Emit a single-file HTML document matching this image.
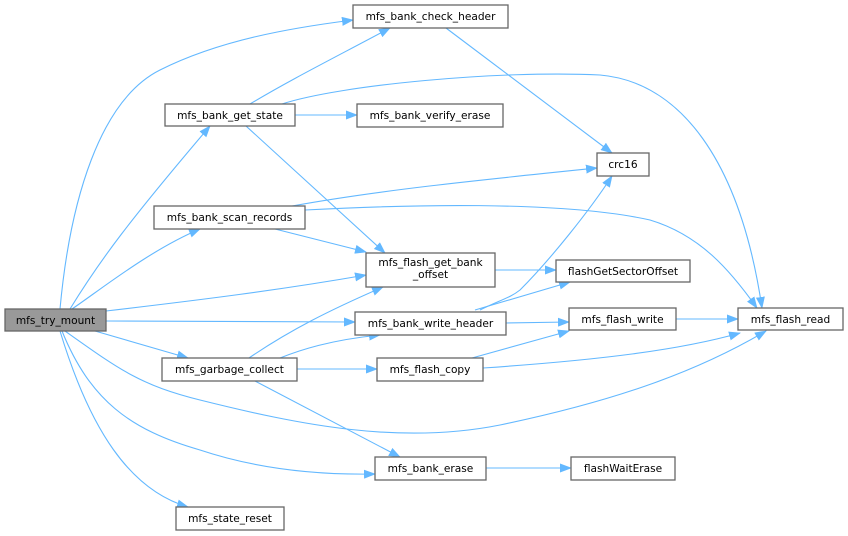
<!DOCTYPE html>
<html><head><meta charset="utf-8"><style>
html,body{margin:0;padding:0;background:#fff;width:848px;height:536px;overflow:hidden}
svg{display:block}
text{font-family:"DejaVu Sans","Liberation Sans",sans-serif;font-size:10.6px;fill:#000}
.n{fill:#fff;stroke:#666;stroke-width:1.3}
.e{fill:none;stroke:#63b8ff;stroke-width:1.1}
</style></head><body>
<svg width="848" height="536" viewBox="0 0 848 536">
<defs><marker id="a" markerWidth="12" markerHeight="9" refX="11" refY="4.5" orient="auto" markerUnits="userSpaceOnUse"><path d="M0,0 L12,4.5 L0,9 z" fill="#63b8ff"/></marker></defs>
<g class="e" marker-end="url(#a)">
<path d="M60,309 C70,200 100,100 160,70 C220,40 290,28 353,20"/>
<path d="M250,104 C290,80 330,60 390,28"/>
<path d="M282,104 C340,85 500,70 600,75 C680,82 740,160 762,308"/>
<path d="M295,115 L357,115"/>
<path d="M246,126 L385,253"/>
<path d="M446,28 L612,153"/>
<path d="M292,206 C380,190 480,180 597,168"/>
<path d="M305,210 C400,205 560,200 650,220 C700,235 730,270 757,308"/>
<path d="M275,229 L366,252"/>
<path d="M495,270 L556,270"/>
<path d="M480,310 C500,300 510,298 520,290 C550,260 590,210 612,176"/>
<path d="M475,310 L570,282"/>
<path d="M506,323 L569,322"/>
<path d="M676,319 L738,319"/>
<path d="M472,358 L569,331"/>
<path d="M483,368 C600,360 680,350 740,333"/>
<path d="M65,331 C120,370 140,385 200,400 C300,425 400,445 500,425 C620,400 700,370 766,331"/>
<path d="M95,331 L188,358"/>
<path d="M106,311 C200,300 280,290 366,275"/>
<path d="M106,321 L355,322"/>
<path d="M70,309 C100,260 130,220 210,126"/>
<path d="M72,309 C100,290 150,250 200,229"/>
<path d="M249,358 C290,330 330,310 383,287"/>
<path d="M280,358 C300,350 330,340 380,335"/>
<path d="M297,369 L377,369"/>
<path d="M255,381 L400,457"/>
<path d="M62,331 C90,400 130,430 200,450 C260,470 320,475 375,474"/>
<path d="M60,331 C90,430 130,490 188,507"/>
<path d="M486,468 L571,468"/>
</g>
<rect x="5" y="309" width="101" height="22" fill="#999" stroke="#666" stroke-width="1.3"/>
<text x="55.5" y="324" text-anchor="middle">mfs_try_mount</text>
<g text-anchor="middle">
<rect class="n" x="353" y="5" width="155" height="23"/><text x="430.5" y="20">mfs_bank_check_header</text>
<rect class="n" x="165" y="104" width="130" height="22"/><text x="230" y="119">mfs_bank_get_state</text>
<rect class="n" x="357" y="104" width="146" height="23"/><text x="430" y="119">mfs_bank_verify_erase</text>
<rect class="n" x="597" y="153" width="52" height="23"/><text x="623" y="168">crc16</text>
<rect class="n" x="154" y="206" width="151" height="23"/><text x="229.5" y="221">mfs_bank_scan_records</text>
<rect class="n" x="366" y="253" width="129" height="34"/><text x="430.5" y="266">mfs_flash_get_bank</text><text x="430.5" y="278">_offset</text>
<rect class="n" x="556" y="260" width="134" height="22"/><text x="623" y="275">flashGetSectorOffset</text>
<rect class="n" x="355" y="312" width="151" height="23"/><text x="430.5" y="327">mfs_bank_write_header</text>
<rect class="n" x="569" y="308" width="107" height="22"/><text x="622.5" y="323">mfs_flash_write</text>
<rect class="n" x="738" y="308" width="105" height="22"/><text x="790.5" y="323">mfs_flash_read</text>
<rect class="n" x="162" y="358" width="135" height="23"/><text x="229.5" y="373">mfs_garbage_collect</text>
<rect class="n" x="377" y="358" width="106" height="23"/><text x="430" y="373">mfs_flash_copy</text>
<rect class="n" x="375" y="457" width="111" height="23"/><text x="430.5" y="472">mfs_bank_erase</text>
<rect class="n" x="571" y="457" width="104" height="23"/><text x="623" y="472">flashWaitErase</text>
<rect class="n" x="176" y="507" width="108" height="23"/><text x="230" y="522">mfs_state_reset</text>
</g>
</svg>
</body></html>
